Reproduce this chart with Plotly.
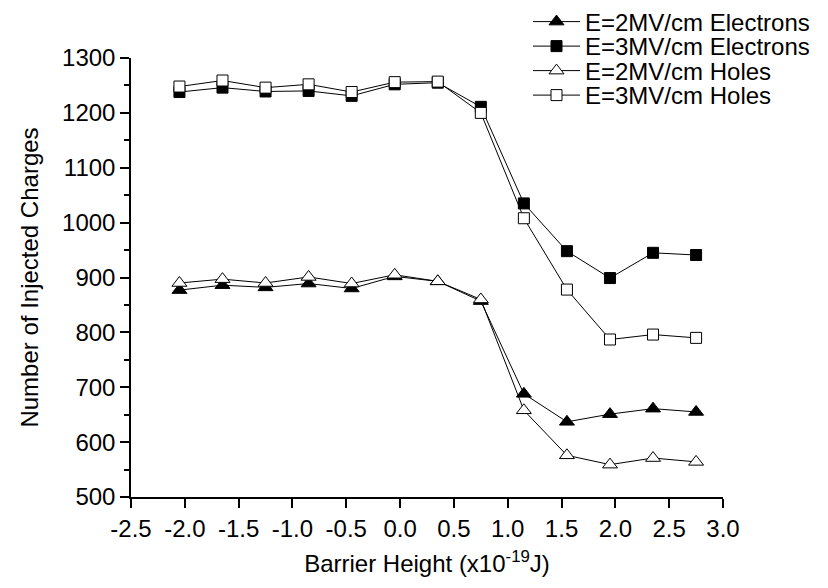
import plotly.graph_objects as go

barrier = [-2.05, -1.65, -1.25, -0.85, -0.45, -0.05, 0.35, 0.75, 1.15, 1.55, 1.95, 2.35, 2.75]
e2_electrons = [877, 886, 882, 889, 880, 902, 893, 857, 688, 637, 651, 661, 655]
e3_electrons = [1238, 1246, 1239, 1240, 1231, 1252, 1255, 1211, 1035, 948, 899, 945, 941]
e2_holes = [890, 897, 890, 901, 889, 905, 893, 860, 658, 576, 559, 571, 564]
e3_holes = [1248, 1259, 1246, 1252, 1238, 1256, 1257, 1200, 1008, 878, 787, 796, 790]

x_tick_vals = [-2.5, -2.0, -1.5, -1.0, -0.5, 0.0, 0.5, 1.0, 1.5, 2.0, 2.5, 3.0]
x_tick_text = ["-2.5", "-2.0", "-1.5", "-1.0", "-0.5", "0.0", "0.5", "1.0", "1.5", "2.0", "2.5", "3.0"]
y_tick_vals = [500, 600, 700, 800, 900, 1000, 1100, 1200, 1300]
y_minor_vals = [550, 650, 750, 850, 950, 1050, 1150, 1250]

names = ["E=2MV/cm Electrons", "E=3MV/cm Electrons", "E=2MV/cm Holes", "E=3MV/cm Holes"]
series = [e2_electrons, e3_electrons, e2_holes, e3_holes]
symbols = ["triangle-up", "square", "triangle-up", "square"]
fills = ["black", "black", "white", "white"]
sizes = [13, 11, 13, 11]
legend_ids = ["legend", "legend2", "legend3", "legend4"]

W, H = 828, 588
font = dict(family="Liberation Sans, Arial, sans-serif", size=24, color="black")

fig = go.Figure()
for nm, ys, sym, fc, sz, lg in zip(names, series, symbols, fills, sizes, legend_ids):
    fig.add_trace(go.Scatter(
        x=barrier, y=ys, name=nm, mode="lines+markers", legend=lg,
        line=dict(color="black", width=1),
        marker=dict(symbol=sym, size=sz, color=fc, line=dict(color="black", width=1)),
    ))

legend_rows_px = [14, 38.5, 63, 87.5]
legend_left_px = 520
for lg, row in zip(legend_ids, legend_rows_px):
    fig.update_layout({lg: dict(
        xref="container", yref="container",
        x=legend_left_px / W, y=1 - row / H, xanchor="left", yanchor="middle",
        bgcolor="rgba(0,0,0,0)", font=font, itemwidth=47, borderwidth=0,
    )})

fig.update_layout(
    width=W, height=H,
    margin=dict(l=123, r=113, t=50, b=99, autoexpand=False),
    paper_bgcolor="white", plot_bgcolor="white",
    font=font,
    showlegend=True,
    xaxis=dict(
        range=[-2.5, 3.0], tickmode="array", tickvals=x_tick_vals, ticktext=x_tick_text,
        showgrid=False, zeroline=False, showline=True, linecolor="black", linewidth=1.5,
        ticks="outside", ticklen=9, tickwidth=1.5, tickcolor="black", automargin=False,
        title=dict(text="Barrier Height (x10<sup>-19</sup>J)", font=font, standoff=15),
    ),
    yaxis=dict(
        range=[500, 1300], tickmode="array", tickvals=y_tick_vals,
        showgrid=False, zeroline=False, showline=True, linecolor="black", linewidth=1.5,
        ticks="outside", ticklen=9, tickwidth=1.5, tickcolor="black", automargin=False,
        minor=dict(tickvals=y_minor_vals, ticks="outside",
                   ticklen=5, tickwidth=1.5, tickcolor="black"),
        title=dict(text="Number of Injected Charges", font=font, standoff=17),
    ),
)

fig.write_html("out.html")
